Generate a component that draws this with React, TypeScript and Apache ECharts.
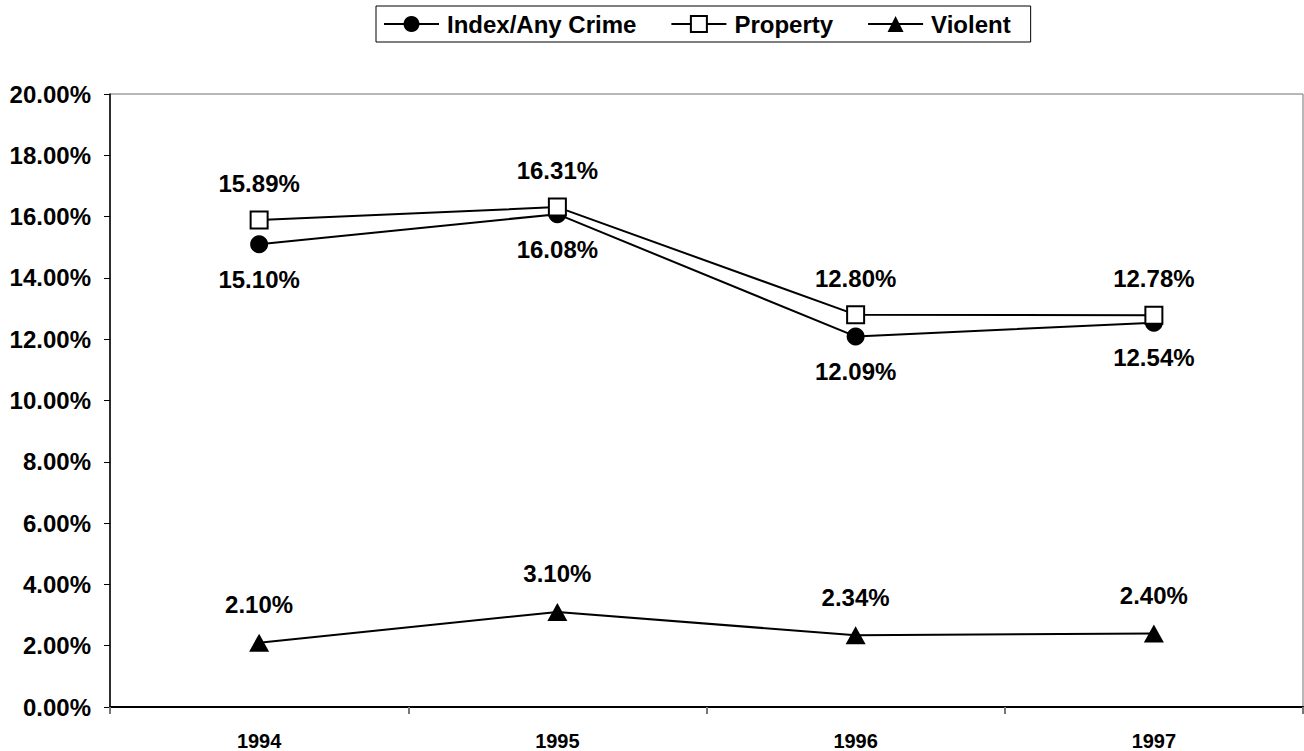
import React, { useEffect, useRef } from "react";
import * as echarts from "echarts";

const years = ["1994", "1995", "1996", "1997"];
const indexCrime = [15.1, 16.08, 12.09, 12.54];
const property = [15.89, 16.31, 12.8, 12.78];
const violent = [2.1, 3.1, 2.34, 2.4];
const yTicks = { min: 0, max: 20, interval: 2 };

const FONT = "Arial, 'Liberation Sans', Helvetica, sans-serif";

export default function App() {
  const ref = useRef<HTMLDivElement>(null);
  useEffect(() => {
    if (!ref.current) return;
    const chart = echarts.init(ref.current, undefined, { renderer: "svg" });
    const labelStyle = {
      show: true,
      fontFamily: FONT,
      fontWeight: "bold" as const,
      fontSize: 24,
      color: "#000",
      formatter: (p: any) => p.value.toFixed(2) + "%",
    };
    chart.setOption({
      animation: false,
      backgroundColor: "#fff",
      textStyle: { fontFamily: FONT },
      legend: {
        left: 376,
        top: 6,
        padding: [6, 20, 6, 7],
        itemWidth: 55,
        itemHeight: 20,
        itemGap: 34,
        borderColor: "#000",
        borderWidth: 1,
        textStyle: { fontFamily: FONT, fontWeight: "bold", fontSize: 24, color: "#000", padding: [0, 0, 0, 3] },
        data: ["Index/Any Crime", "Property", "Violent"],
      },
      grid: {
        left: 110,
        right: 1,
        top: 94,
        bottom: 44,
        show: true,
        borderColor: "#707070",
        borderWidth: 1,
      },
      xAxis: {
        type: "category",
        data: years,
        boundaryGap: true,
        axisLine: { lineStyle: { color: "#000", width: 2 } },
        axisTick: { show: true, length: 7, lineStyle: { color: "#777", width: 2 } },
        axisLabel: { fontFamily: FONT, fontWeight: "bold", fontSize: 20, color: "#000", margin: 24 },
        splitLine: { show: false },
      },
      yAxis: {
        type: "value",
        min: yTicks.min,
        max: yTicks.max,
        interval: yTicks.interval,
        axisLine: { show: true, lineStyle: { color: "#000", width: 1.5 } },
        axisTick: { show: true, length: 6, lineStyle: { color: "#000" } },
        axisLabel: {
          fontFamily: FONT,
          fontWeight: "bold",
          fontSize: 24,
          color: "#000",
          margin: 19,
          formatter: (v: number) => v.toFixed(2) + "%",
        },
        splitLine: { show: false },
      },
      series: [
        {
          name: "Index/Any Crime",
          type: "line",
          data: indexCrime,
          symbol: "circle",
          symbolSize: 18,
          itemStyle: { color: "#000" },
          lineStyle: { color: "#000", width: 2 },
          label: { ...labelStyle, position: "bottom", distance: 14 },
          z: 2,
        },
        {
          name: "Property",
          type: "line",
          data: property,
          symbol: "rect",
          symbolSize: 17,
          itemStyle: { color: "#fff", borderColor: "#000", borderWidth: 2 },
          lineStyle: { color: "#000", width: 2 },
          label: { ...labelStyle, position: "top", distance: 15 },
          z: 3,
        },
        {
          name: "Violent",
          type: "line",
          data: violent,
          symbol: "triangle",
          symbolSize: [20, 18],
          itemStyle: { color: "#000" },
          lineStyle: { color: "#000", width: 2 },
          label: { ...labelStyle, position: "top", distance: 17 },
          z: 2,
        },
      ],
    });
    return () => chart.dispose();
  }, []);
  return (
    <div
      ref={ref}
      style={{ position: "absolute", left: 0, top: 0, width: 1304, height: 751 }}
    />
  );
}
